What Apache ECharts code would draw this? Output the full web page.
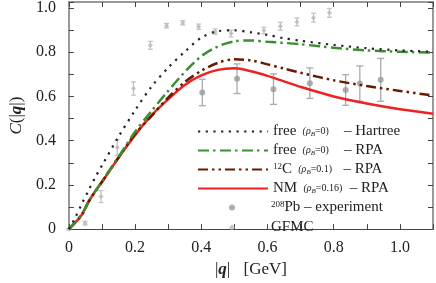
<!DOCTYPE html>
<html>
<head>
<meta charset="utf-8">
<script src="https://cdn.jsdelivr.net/npm/echarts@6/dist/echarts.min.js"></script>
<style>html,body{margin:0;padding:0;background:#fff}#c{width:436px;height:283px}</style>
</head>
<body>
<div id="c"></div>
<script>
// ---- data ----
const qGrid   = [0, 0.02, 0.04, 0.06, 0.08, 0.1, 0.15, 0.2, 0.25, 0.3, 0.35, 0.4, 0.45, 0.5, 0.55, 0.6, 0.65, 0.7, 0.8, 0.9, 1.0, 1.1];
const hartree = [0, 0.055, 0.117, 0.177, 0.235, 0.288, 0.418, 0.537, 0.645, 0.73, 0.802, 0.866, 0.895, 0.899, 0.89, 0.878, 0.863, 0.852, 0.833, 0.818, 0.808, 0.802];
const freeRPA = [0, 0.034, 0.07, 0.125, 0.172, 0.216, 0.327, 0.44, 0.535, 0.625, 0.71, 0.782, 0.826, 0.849, 0.853, 0.847, 0.842, 0.836, 0.82, 0.808, 0.802, 0.798];
const c12RPA  = [0, 0.032, 0.068, 0.125, 0.171, 0.214, 0.324, 0.43, 0.512, 0.595, 0.665, 0.716, 0.752, 0.768, 0.763, 0.745, 0.726, 0.707, 0.673, 0.647, 0.625, 0.604];
const nmRPA   = [0, 0.03, 0.067, 0.125, 0.172, 0.213, 0.323, 0.425, 0.515, 0.587, 0.652, 0.695, 0.72, 0.727, 0.714, 0.693, 0.668, 0.643, 0.6, 0.568, 0.542, 0.522];

const pbQ   = [0.403, 0.508, 0.618, 0.728, 0.836, 0.879, 0.942];
const pbC   = [0.618, 0.68, 0.633, 0.66, 0.629, 0.658, 0.675];
const pbErr = [0.06, 0.067, 0.069, 0.069, 0.069, 0.08, 0.097];

const gfmcQ   = [0, 0.049, 0.097, 0.146, 0.195, 0.246, 0.295, 0.344, 0.392, 0.442, 0.49, 0.589, 0.639, 0.689, 0.739, 0.787];
const gfmcC   = [0, 0.027, 0.147, 0.369, 0.636, 0.831, 0.92, 0.933, 0.915, 0.893, 0.884, 0.898, 0.917, 0.937, 0.956, 0.978];
const gfmcErr = [0.004, 0.008, 0.027, 0.035, 0.03, 0.018, 0.01, 0.01, 0.012, 0.012, 0.015, 0.015, 0.018, 0.018, 0.02, 0.02];

const xMin = 0, xMax = 1.1, xStep = 0.1;
const yMin = 0, yMax = 1.027, yStep = 0.1;

// ---- helpers ----
const F = 'Liberation Serif';
const zip = (xs, ys) => xs.map((x, i) => [x, ys[i]]);
const errData = (xs, ys, es) => xs.map((x, i) => [x, ys[i] - es[i], ys[i] + es[i]]);
function errRender(capW, color) {
  return function (params, api) {
    const lo = api.coord([api.value(0), api.value(1)]);
    const hi = api.coord([api.value(0), api.value(2)]);
    const st = { stroke: color, lineWidth: 1.3 };
    return { type: 'group', children: [
      { type: 'line', shape: { x1: lo[0], y1: lo[1], x2: hi[0], y2: hi[1] }, style: st },
      { type: 'line', shape: { x1: lo[0] - capW, y1: lo[1], x2: lo[0] + capW, y2: lo[1] }, style: st },
      { type: 'line', shape: { x1: hi[0] - capW, y1: hi[1], x2: hi[0] + capW, y2: hi[1] }, style: st }
    ]};
  };
}
const onStep = (v, k) => Math.abs(v / k - Math.round(v / k)) < 1e-6;
const fmt = v => (v === 0 ? '0' : v.toFixed(1));

const rich = {
  t:  { fontFamily: F, fontSize: 15, color: '#222', lineHeight: 16 },
  s:  { fontFamily: F, fontSize: 10, fontStyle: 'italic', color: '#222', lineHeight: 16 },
  ss: { fontFamily: F, fontSize: 7, fontStyle: 'italic', color: '#222', lineHeight: 16, padding: [5, 0, 0, 0] },
  sn: { fontFamily: F, fontSize: 10, color: '#222', lineHeight: 16 },
  up: { fontFamily: F, fontSize: 9, color: '#222', lineHeight: 16, padding: [0, 0, 6, 0] },
  sp: { width: 31, lineHeight: 16 }
};
const labels = {
  'free Hartree': '{t|free }{s| (ρ}{ss|B}{sn|=0)}{t|    – Hartree}',
  'free RPA':     '{t|free }{s| (ρ}{ss|B}{sn|=0)}{t|    – RPA}',
  '12C RPA':      '{up|12}{t|C }{s| (ρ}{ss|B}{sn|=0.1)}{t|   – RPA}',
  'NM RPA':       '{t|NM }{s| (ρ}{ss|B}{sn|=0.16)}{t|  – RPA}',
  'Pb exp':       '{sp|}{up|208}{t|Pb – experiment}',
  'GFMC':         '{sp|}{t|GFMC}'
};

const chart = echarts.init(document.getElementById('c'), null, { renderer: 'canvas' });
const frame = '#999';
const tickC = '#444';
chart.setOption({
  animation: false,
  backgroundColor: '#fff',
  grid: { left: 59, right: 1, top: 2, bottom: 50 },
  xAxis: [
    { type: 'value', min: xMin, max: xMax, interval: xStep, position: 'bottom',
      axisLine: { onZero: false, lineStyle: { color: '#444', width: 1.2 } },
      axisTick: { inside: true, length: 5, lineStyle: { color: tickC } },
      splitLine: { show: false },
      axisLabel: { margin: 11, fontFamily: F, fontSize: 16, color: '#222',
        formatter: v => (onStep(v, 0.2) ? fmt(v) : '') },
      name: '{n||}{b|q}{n||}    {n|[GeV]}', nameLocation: 'middle', nameGap: 24,
      nameTextStyle: { rich: {
        n: { fontFamily: F, fontSize: 17, color: '#222' },
        b: { fontFamily: F, fontSize: 17, fontWeight: 'bold', fontStyle: 'italic', color: '#222' } } } },
    { type: 'value', min: xMin, max: xMax, interval: xStep, position: 'top',
      axisLine: { onZero: false, lineStyle: { color: frame, width: 2 } },
      axisTick: { inside: true, length: 5, lineStyle: { color: tickC } },
      axisLabel: { show: false }, splitLine: { show: false } }
  ],
  yAxis: [
    { type: 'value', min: yMin, max: yMax, interval: yStep, position: 'left',
      axisLine: { onZero: false, lineStyle: { color: frame, width: 2 } },
      axisTick: { inside: true, length: 5, lineStyle: { color: tickC } },
      splitLine: { show: false },
      axisLabel: { margin: 13, fontFamily: F, fontSize: 16, color: '#222',
        formatter: v => (onStep(v, 0.2) ? fmt(v) : '') },
      name: '{i|C}{n|(|}{b|q}{n||)}', nameLocation: 'middle', nameRotate: 90, nameGap: 42,
      nameTextStyle: { rich: {
        n: { fontFamily: F, fontSize: 17, color: '#222' },
        i: { fontFamily: F, fontSize: 17, fontStyle: 'italic', color: '#222' },
        b: { fontFamily: F, fontSize: 17, fontWeight: 'bold', fontStyle: 'italic', color: '#222' } } } },
    { type: 'value', min: yMin, max: yMax, interval: yStep, position: 'right',
      axisLine: { onZero: false, lineStyle: { color: frame, width: 2 } },
      axisTick: { inside: true, length: 5, lineStyle: { color: tickC } },
      axisLabel: { show: false }, splitLine: { show: false } }
  ],
  legend: [
    { orient: 'vertical', left: 197, top: 124, padding: 0, itemWidth: 70, itemHeight: 14, itemGap: 4,
      data: ['free Hartree', 'free RPA', '12C RPA', 'NM RPA'],
      itemStyle: { opacity: 0 }, lineStyle: { opacity: 1 },
      formatter: n => labels[n], textStyle: { rich: rich } },
    { orient: 'vertical', left: 229, top: 200, padding: 0, itemWidth: 6, itemHeight: 6, itemGap: 5,
      data: [{ name: 'Pb exp', icon: 'circle' }, { name: 'GFMC', icon: 'diamond' }],
      formatter: n => labels[n], textStyle: { rich: rich } }
  ],
  series: [
    { name: 'pbErr', type: 'custom', renderItem: errRender(3.5, '#aaa'), data: errData(pbQ, pbC, pbErr), z: 1, silent: true },
    { name: 'gfmcErr', type: 'custom', renderItem: errRender(2.5, '#c4c4c4'), data: errData(gfmcQ, gfmcC, gfmcErr), z: 1, silent: true },
    { name: 'Pb exp', type: 'scatter', data: zip(pbQ, pbC), symbol: 'circle', symbolSize: 6,
      itemStyle: { color: '#9a9a9a' }, z: 2 },
    { name: 'GFMC', type: 'scatter', data: zip(gfmcQ, gfmcC), symbol: 'diamond', symbolSize: 5,
      itemStyle: { color: '#b8b8b8' }, z: 2 },
    { name: 'NM RPA', type: 'line', data: zip(qGrid, nmRPA), symbol: 'none', smooth: 0.3, z: 4,
      lineStyle: { color: '#ee2222', width: 2.5 }, itemStyle: { color: '#ee2222' } },
    { name: '12C RPA', type: 'line', data: zip(qGrid, c12RPA), symbol: 'none', smooth: 0.3, z: 5,
      lineStyle: { color: '#6b1800', width: 2.5, type: [10, 4, 2.5, 4, 2.5, 4] }, itemStyle: { color: '#6b1800' } },
    { name: 'free RPA', type: 'line', data: zip(qGrid, freeRPA), symbol: 'none', smooth: 0.3, z: 6,
      lineStyle: { color: '#3a8f30', width: 2.5, type: [11, 4, 2.5, 4.5] }, itemStyle: { color: '#3a8f30' } },
    { name: 'free Hartree', type: 'line', data: zip(qGrid, hartree), symbol: 'none', smooth: 0.3, z: 7,
      lineStyle: { color: '#222', width: 2.2, type: [2.2, 5.5] }, itemStyle: { color: '#222' } }
  ]
});
</script>
</body>
</html>
